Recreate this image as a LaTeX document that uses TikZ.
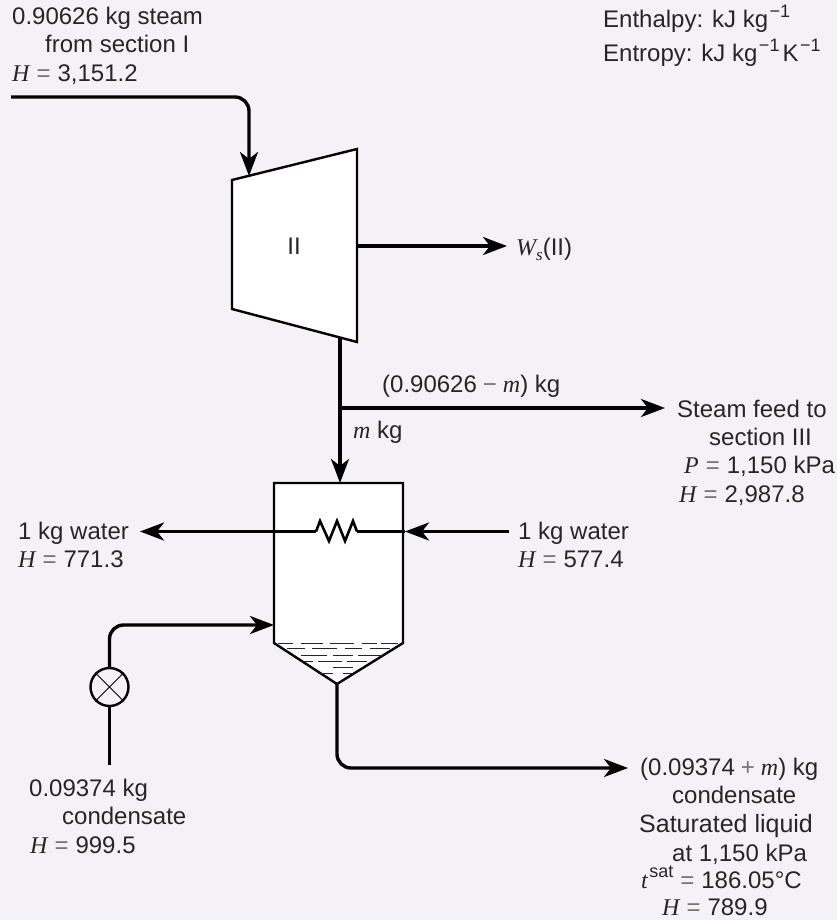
\documentclass[tikz,border=0pt]{standalone}
\usepackage{fontspec}
\setmainfont{Liberation Sans}
\newfontfamily\serifit[Ligatures=TeX]{Liberation Serif}
\usetikzlibrary{arrows.meta,calc}
\definecolor{bgc}{HTML}{F5F2F7}
\newcommand{\vv}[1]{{\serifit\itshape #1}}
\newcommand{\supr}[1]{\hspace{1.5pt}\raisebox{0.42em}{\fontsize{18}{18}\selectfont #1}}
\newcommand{\subr}[1]{\raisebox{-0.22em}{\fontsize{17}{17}\selectfont #1}}
\newcommand{\eqq}{\hspace{7pt}{\color{black!55}=}\hspace{7pt}}
\newcommand{\opp}[1]{\hspace{6pt}{\color{black!55}#1}\hspace{6pt}}
\tikzset{
 x=1pt,y=-1pt,
 pipe/.style={line width=3.4pt,line join=round},
 flow/.style={pipe,-{Stealth[length=24pt,width=18pt,inset=7pt]}},
 unitl/.style={draw,line width=2.4pt,fill=white,line join=miter},
 lab/.style={anchor=base west,inner sep=0pt,font=\fontsize{24}{28}\selectfont,text=black!85},
 cen/.style={anchor=base,inner sep=0pt,font=\fontsize{24}{28}\selectfont,text=black!85},
}
\begin{document}
\begin{tikzpicture}
\useasboundingbox[fill=bgc] (0,0) rectangle (837,920);
% coordinates
\coordinate (inS) at (11,97);
\coordinate (turbIn) at (249,176);
\coordinate (wsStart) at (357,246);
\coordinate (wsEnd) at (507,246);
\coordinate (turbOut) at (340,338);
\coordinate (junc) at (340,408);
\coordinate (feedEnd) at (665,408);
\coordinate (tankIn) at (340,483);
\coordinate (wIn) at (509,531.5);
\coordinate (wInEnd) at (405,531.5);
\coordinate (wOut) at (140,531.5);
\coordinate (coilR) at (357,531.5);
\coordinate (coilL) at (316,531.5);
\coordinate (cIn) at (274,625);
\coordinate (cStart) at (109.5,765);
\coordinate (prodStart) at (337,684);
\coordinate (prodEnd) at (628,768);
% turbine
\draw[unitl] (232,180) -- (357,149) -- (357,342) -- (232,309) -- cycle;
\node[cen] (tlabel) at (294,254) {II};
% tank
\draw[unitl] (274,483) -- (403,483) -- (403,643) -- (337,684) -- (274,643) -- cycle;
% connectors
\draw[flow,rounded corners=14pt] (inS) -- (249,97) -- (turbIn);
\draw[flow] (wsStart) -- (wsEnd);
\draw[pipe] (turbOut) -- (junc);
\draw[flow] (junc) -- (feedEnd);
\draw[flow] (junc) -- (tankIn);
\draw[pipe] (wInEnd) -- (coilR);
\draw[flow] (coilL) -- (wOut);
\draw[flow] (wIn) -- (wInEnd);
\draw[line width=2.6pt,line join=miter] (coilL) -- (320,521) -- (329,541) -- (337,521) -- (345,541) -- (353,521) -- (coilR);
% valve
\node[draw,circle,line width=2.4pt,minimum size=38pt,inner sep=0pt,fill=bgc] (valve) at (109.5,687) {};
\draw[line width=1pt] (valve.45) -- (valve.225) (valve.135) -- (valve.315);
\draw[pipe] (cStart) -- (valve.south);
\draw[flow,rounded corners=14pt] (valve.north) -- (109.5,625) -- (cIn);
% product
\draw[flow,rounded corners=14pt] (prodStart) -- (337,768) -- (prodEnd);
% liquid
\foreach \a/\b/\y in {
 278/293/643, 301/323/643, 330/354/643, 362/377/643, 381/398/643,
 287/305/648.5, 312/337/648.5, 345/362/648.5, 370/390/648.5,
 301/327/655, 333/353/655, 358/382/655,
 302/313/661, 318/342/661, 347/367/661,
 333/353/667,
 318/333/673, 343/353/673}
 \draw[line width=1pt,black!85] (\a,\y) -- (\b,\y);
% labels
\node[lab] (t1) at (12,25) {0.90626 kg steam};
\node[lab] (t2) at (45,53) {from section I};
\node[lab] (t3) at (12,82) {\vv{H}\eqq 3,151.2};
\node[lab] (t4) at (603,28) {Enthalpy: kJ kg\supr{−1}};
\node[lab] (t5) at (603,62) {Entropy: kJ kg\supr{−1}\hspace{3pt}K\supr{−1}};
\node[lab] (t6) at (516,255) {\vv{W}\subr{\vv{s}}(II)};
\node[lab] (t7) at (382,392) {(0.90626\opp{−}\vv{m}) kg};
\node[lab] (t8) at (353,438) {\vv{m} kg};
\node[lab] (t9) at (677,417) {Steam feed to};
\node[lab] (t10) at (709,445) {section III};
\node[lab] (t11) at (684,473) {\vv{P}\eqq 1,150 kPa};
\node[lab] (t12) at (679,502) {\vv{H}\eqq 2,987.8};
\node[lab] (t13) at (18,539) {1 kg water};
\node[lab] (t14) at (18,567) {\vv{H}\eqq 771.3};
\node[lab] (t15) at (518,539) {1 kg water};
\node[lab] (t16) at (518,567) {\vv{H}\eqq 577.4};
\node[lab] (t17) at (29,796) {0.09374 kg};
\node[lab] (t18) at (62,824) {condensate};
\node[lab] (t19) at (30,853) {\vv{H}\eqq 999.5};
\node[lab] (t20) at (640,775) {(0.09374\opp{+}\vv{m}) kg};
\node[lab] (t21) at (672,803) {condensate};
\node[lab] (t22) at (639,832) {\fontsize{25}{28}\selectfont Saturated liquid};
\node[lab] (t23) at (672,861) {at 1,150 kPa};
\node[lab] (t24) at (641,888) {\vv{t}\supr{sat}\eqq 186.05°C};
\node[lab] (t25) at (662,915) {\vv{H}\eqq 789.9};
\end{tikzpicture}
\end{document}
